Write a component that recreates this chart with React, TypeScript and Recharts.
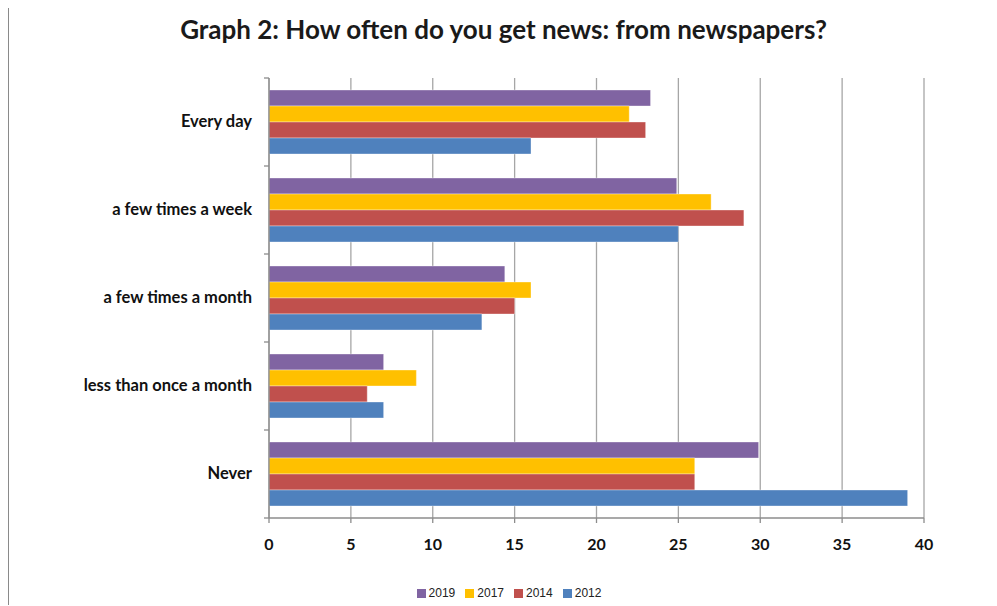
import React from "react";
import { BarChart, Bar, XAxis, YAxis, CartesianGrid, Legend } from "recharts";

const categories = ["Every day", "a few times a week", "a few times a month", "less than once a month", "Never"];
const values2019 = [23.3, 24.9, 14.4, 7, 29.9];
const values2017 = [22, 27, 16, 9, 26];
const values2014 = [23, 29, 15, 6, 26];
const values2012 = [16, 25, 13, 7, 39];
const xTicks = [0, 5, 10, 15, 20, 25, 30, 35, 40];
const seriesNames = ["2019", "2017", "2014", "2012"];
const seriesKeys = ["y2019", "y2017", "y2014", "y2012"];
const seriesColors = ["#8064a2", "#ffc000", "#c0504d", "#4f81bd"];

const data = categories.map((c, i) => ({
  category: c,
  y2019: values2019[i],
  y2017: values2017[i],
  y2014: values2014[i],
  y2012: values2012[i],
}));

const W = 989;
const H = 598;
const MARGIN = { top: 70, right: 73, bottom: 3, left: 0 };
const Y_WIDTH = 261;
const TICK_SIZE = 5;
const TICK_MARGIN = 12;
const BAND = (510 - MARGIN.top) / categories.length;
const FONT = "Lato, 'Open Sans', sans-serif";

const CategoryTick = (props: any) => {
  const { x, y, payload, index } = props;
  const axisX = x + TICK_SIZE + TICK_MARGIN;
  const last = index === categories.length - 1;
  return (
    <g>
      <line x1={axisX} x2={axisX - TICK_SIZE} y1={y - BAND / 2} y2={y - BAND / 2} stroke="#8c8c8c" strokeWidth={1.3} />
      {last && (
        <line x1={axisX} x2={axisX - TICK_SIZE} y1={y + BAND / 2} y2={y + BAND / 2} stroke="#8c8c8c" strokeWidth={1.3} />
      )}
      <text x={x} y={y} dy="0.3em" textAnchor="end" fontFamily={FONT} fontWeight={700} fontSize={16.5} fill="#111">
        {payload.value}
      </text>
    </g>
  );
};

const LegendContent = () => (
  <div
    style={{
      height: 20,
      display: "flex",
      justifyContent: "center",
      alignItems: "center",
      paddingLeft: 96,
      fontFamily: "'Liberation Sans', Arial, sans-serif",
      fontSize: 12,
      color: "#222",
    }}
  >
    {seriesNames.map((n, i) => (
      <span key={n} style={{ display: "inline-flex", alignItems: "center", marginRight: 10 }}>
        <span style={{ display: "inline-block", width: 9, height: 9, background: seriesColors[i], marginRight: 3 }} />
        {n}
      </span>
    ))}
  </div>
);

export default function App() {
  return (
    <div
      style={{
        position: "relative",
        width: W,
        height: H,
        borderTop: "1px solid #3a3a3a",
        borderLeft: "1px solid #8a8a8a",
        boxSizing: "border-box",
        marginTop: -1,
        background: "#fff",
      }}
    >
      <div
        style={{
          position: "absolute",
          top: 5,
          left: 0,
          width: W,
          textAlign: "center",
          fontFamily: FONT,
          fontWeight: 700,
          fontSize: 26,
          color: "#1a1a1a",
        }}
      >
        Graph 2: How often do you get news: from newspapers?
      </div>
      <div style={{ position: "absolute", top: 0, left: -1 }}>
        <BarChart
          width={W}
          height={H}
          data={data}
          layout="vertical"
          margin={MARGIN}
          barCategoryGap={12}
          barGap={0}
        >
          <CartesianGrid horizontal={false} vertical={true} stroke="#a6a6a6" strokeWidth={1.3} />
          <XAxis
            type="number"
            domain={[0, 40]}
            ticks={xTicks}
            interval={0}
            height={65}
            tickSize={TICK_SIZE}
            tickMargin={16}
            axisLine={{ stroke: "#8c8c8c", strokeWidth: 1.3 }}
            tickLine={{ stroke: "#8c8c8c", strokeWidth: 1.3 }}
            tick={{ fontFamily: FONT, fontWeight: 700, fontSize: 16, fill: "#111" }}
          />
          <YAxis
            type="category"
            dataKey="category"
            width={Y_WIDTH}
            tickSize={TICK_SIZE}
            tickMargin={TICK_MARGIN}
            tickLine={false}
            axisLine={{ stroke: "#8c8c8c", strokeWidth: 1.3 }}
            tick={<CategoryTick />}
            interval={0}
          />
          <Legend verticalAlign="bottom" align="center" content={<LegendContent />} />
          {seriesKeys.map((k, i) => (
            <Bar
              key={k}
              dataKey={k}
              name={seriesNames[i]}
              fill={seriesColors[i]}
              stroke="#ffffff"
              strokeOpacity={0.35}
              isAnimationActive={false}
            />
          ))}
        </BarChart>
      </div>
    </div>
  );
}
